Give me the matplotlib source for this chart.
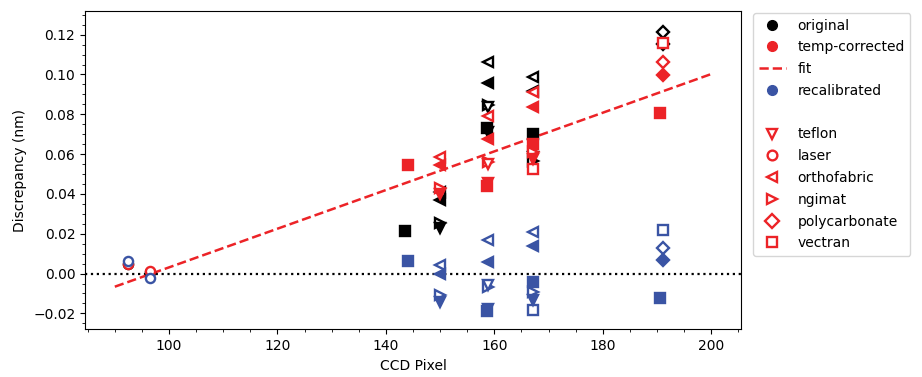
import matplotlib
matplotlib.use("Agg")
import matplotlib.pyplot as plt
from matplotlib.lines import Line2D
from matplotlib.ticker import MultipleLocator

RED = "#ec2327"
BLUE = "#3a54a4"

materials = ["teflon", "laser", "orthofabric", "ngimat", "polycarbonate", "vectran"]
mat_marker = {"teflon": "v", "laser": "o", "orthofabric": "<",
              "ngimat": ">", "polycarbonate": "D", "vectran": "s"}

# original (black)
orig_mat = ["laser", "laser", "vectran", "orthofabric", "orthofabric", "orthofabric",
            "orthofabric", "orthofabric", "orthofabric", "ngimat", "ngimat", "ngimat",
            "teflon", "teflon", "teflon", "teflon", "vectran", "vectran",
            "polycarbonate", "polycarbonate"]
orig_fill = [False, False, True, False, False, False,
             True, True, True, False, False, False,
             True, True, True, False, True, True,
             False, True]
orig_x = [92.5, 96.5, 143.6, 150.0, 158.8, 167.1,
          150.0, 158.8, 167.1, 150.0, 158.8, 167.1,
          150.0, 158.8, 167.1, 158.8, 158.6, 167.1,
          191.1, 191.1]
orig_y = [0.0050, 0.0008, 0.0215, 0.0410, 0.1063, 0.0988,
          0.0370, 0.0958, 0.0915, 0.0255, 0.0846, 0.0565,
          0.0228, 0.0710, 0.0585, 0.0835, 0.0729, 0.0700,
          0.1214, 0.1152]

# temp-corrected (red)
temp_mat = ["laser", "laser", "vectran", "vectran", "vectran", "vectran",
            "vectran", "vectran", "orthofabric", "orthofabric", "orthofabric",
            "orthofabric", "orthofabric", "orthofabric", "ngimat", "ngimat", "ngimat",
            "teflon", "teflon", "teflon", "teflon", "polycarbonate", "polycarbonate"]
temp_fill = [False, False, True, True, True, True,
             False, False, False, False, False,
             True, True, True, False, False, False,
             True, True, True, False, False, True]
temp_x = [92.5, 96.5, 144.0, 158.6, 167.1, 190.6,
          167.1, 191.1, 150.0, 158.8, 167.1,
          150.0, 158.8, 167.1, 150.0, 158.8, 167.1,
          150.0, 158.8, 167.1, 158.8, 191.1, 191.1]
temp_y = [0.0050, 0.0012, 0.0544, 0.0440, 0.0650, 0.0807,
          0.0525, 0.1156, 0.0586, 0.0790, 0.0913,
          0.0545, 0.0678, 0.0837, 0.0432, 0.0560, 0.0612,
          0.0400, 0.0455, 0.0575, 0.0552, 0.1063, 0.0997]

# recalibrated (blue)
recal_mat = temp_mat
recal_fill = temp_fill
recal_x = temp_x
recal_y = [0.0063, -0.0022, 0.0062, -0.0190, -0.0042, -0.0121,
           -0.0184, 0.0221, 0.0042, 0.0167, 0.0209,
           0.0000, 0.0058, 0.0137, -0.0110, -0.0067, -0.0092,
           -0.0145, -0.0176, -0.0134, -0.0058, 0.0126, 0.0067]

fit_x = [90, 200]
fit_y = [-0.0066, 0.1002]


def draw(ax, mats, fills, xs, ys, color):
    for m, f, x, y in zip(mats, fills, xs, ys):
        ax.plot(x, y, linestyle="none", marker=mat_marker[m], markersize=6.6,
                markeredgewidth=1.7, markeredgecolor=color,
                markerfacecolor=color if f else "white")


fig = plt.figure(figsize=(9.22, 3.77), dpi=100)
ax = fig.add_axes([0.0922, 0.1265, 0.7115, 0.845])

ax.axhline(0, color="black", linestyle=":", linewidth=1.6, zorder=1)
ax.plot(fit_x, fit_y, color=RED, linestyle="--", linewidth=1.8, zorder=1)
draw(ax, orig_mat, orig_fill, orig_x, orig_y, "black")
draw(ax, temp_mat, temp_fill, temp_x, temp_y, RED)
draw(ax, recal_mat, recal_fill, recal_x, recal_y, BLUE)

ax.set_xlim(84.5, 205.5)
ax.set_ylim(-0.028, 0.132)
ax.xaxis.set_major_locator(MultipleLocator(20))
ax.xaxis.set_minor_locator(MultipleLocator(5))
ax.yaxis.set_major_locator(MultipleLocator(0.02))
ax.yaxis.set_minor_locator(MultipleLocator(0.005))
ax.set_xlabel("CCD Pixel")
ax.set_ylabel("Discrepancy (nm)")

handles = [
    Line2D([], [], linestyle="none", marker="o", color="black", markersize=7),
    Line2D([], [], linestyle="none", marker="o", color=RED, markersize=7),
    Line2D([], [], linestyle="--", color=RED, linewidth=1.8),
    Line2D([], [], linestyle="none", marker="o", color=BLUE, markersize=7),
    Line2D([], [], linestyle="none", marker=None),
]
labels = ["original", "temp-corrected", "fit", "recalibrated", ""]
for m in materials:
    handles.append(Line2D([], [], linestyle="none", marker=mat_marker[m], markersize=7,
                          markeredgewidth=1.7, markeredgecolor=RED, markerfacecolor="white"))
    labels.append(m)

fig.legend(handles, labels, loc="upper left", bbox_to_anchor=(0.8167, 0.9655),
           borderaxespad=0, labelspacing=0.56)

fig.savefig("out.png", dpi=100)
